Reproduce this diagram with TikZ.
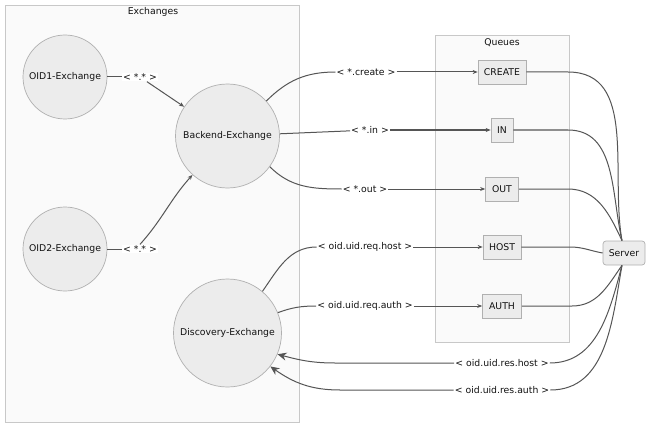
\documentclass[tikz,border=0pt]{standalone}
\usepackage{fontspec}
\setmainfont{DejaVu Sans}
\usetikzlibrary{arrows.meta}
\definecolor{clfill}{HTML}{FAFAFA}
\definecolor{clborder}{HTML}{C8C8C8}
\definecolor{nodefill}{HTML}{ECECEC}
\definecolor{nodeborder}{HTML}{B0B0B0}
\definecolor{edgecol}{HTML}{555555}
\definecolor{txt}{HTML}{111111}
\begin{document}
\begin{tikzpicture}[x=1pt,y=1pt,font=\fontsize{9.3}{11}\selectfont,text=txt,
  cluster/.style={draw=clborder,fill=clfill,line width=0.8pt},
  exch/.style={circle,draw=nodeborder,fill=nodefill,line width=0.7pt,minimum size=84pt,inner sep=0pt},
  queue/.style={draw=nodeborder,fill=nodefill,line width=0.7pt,minimum height=24pt,inner xsep=2pt},
  lbl/.style={fill=white,inner sep=1pt},
  edge/.style={draw=edgecol,line width=1pt},
  arr/.style={-{Stealth[length=5pt,width=4pt]}},
  bigarr/.style={-{Stealth[length=9pt,width=8pt]}}]
\useasboundingbox[fill=white] (0,0) rectangle (658,-433);
% clusters
\path[cluster] (5,-5) rectangle (299,-422);
\node (exlabel) at (153,-12) {Exchanges};
\path[cluster] (435,-35) rectangle (569,-342);
\node (qlabel) at (502,-43) {Queues};
% exchanges
\node[exch] (oid1) at (65,-77) {OID1-Exchange};
\node[exch,minimum size=104pt] (backend) at (227.5,-136) {Backend-Exchange};
\node[exch] (oid2) at (65,-249) {OID2-Exchange};
\node[exch,minimum size=108pt] (disc) at (227.5,-333) {Discovery-Exchange};
% queues
\node[queue,minimum width=48pt] (create) at (502,-72) {CREATE};
\node[queue,minimum width=22pt] (in) at (502,-130) {IN};
\node[queue,minimum width=33pt] (out) at (502,-189) {OUT};
\node[queue,minimum width=38pt] (host) at (502,-247) {HOST};
\node[queue,minimum width=39pt] (auth) at (502,-306) {AUTH};
% server
\node[draw=nodeborder,fill=nodefill,line width=0.7pt,rounded corners=3pt,minimum width=42pt,minimum height=24pt] (server) at (624,-253) {Server};
% labels
\node[lbl] (l1) at (140,-77) {< *.* >};
\node[lbl] (l2) at (140,-249) {< *.* >};
\node[lbl] (lc) at (366,-72) {< *.create >};
\node[lbl] (li) at (370,-130) {< *.in >};
\node[lbl] (lo) at (365,-189) {< *.out >};
\node[lbl] (lh) at (365,-247) {< oid.uid.req.host >};
\node[lbl] (la) at (365,-306) {< oid.uid.req.auth >};
\node[lbl] (lrh) at (502,-363) {< oid.uid.res.host >};
\node[lbl] (lra) at (502,-390) {< oid.uid.res.auth >};
% coordinates
\coordinate (cq1) at (568,-72);
\coordinate (cq2) at (568,-130);
\coordinate (cq3) at (568,-189);
\coordinate (cq4) at (570,-247);
\coordinate (cq5) at (572,-306);
\coordinate (rh2) at (335,-363);
\coordinate (ra2) at (340,-390);
% edges
\draw[edge] (oid1) -- (l1);
\draw[edge,arr] (l1) -- (backend);
\draw[edge] (oid2) -- (l2);
\draw[edge,arr] (l2.north) to[out=48,in=228] (backend);
\draw[edge] (backend.42) to[out=45,in=180] (lc.west);
\draw[edge,arr] (lc) -- (create);
\draw[edge] (backend) -- (li);
\draw[edge,arr] (li) -- (in);
\draw[edge] (backend.-36) to[out=-45,in=180] (lo.west);
\draw[edge,arr] (lo) -- (out);
\draw[edge] (disc.50) to[out=55,in=180] (lh.west);
\draw[edge,arr] (lh) -- (host);
\draw[edge] (disc.22) to[out=20,in=180] (la.west);
\draw[edge,arr] (la) -- (auth);
\draw[edge] (create) -- (cq1) to[out=0,in=100] ([xshift=-2pt]server.north);
\draw[edge] (in) -- (cq2) to[out=0,in=103] ([xshift=-2pt]server.north);
\draw[edge] (out) -- (cq3) to[out=0,in=115] ([xshift=-2pt]server.north);
\draw[edge] (host) -- (cq4) to[out=0,in=170] (server.west);
\draw[edge] (auth) -- (cq5) to[out=0,in=-125] ([xshift=-2pt]server.south);
\draw[edge] ([xshift=-2pt]server.south) to[out=-105,in=0] (lrh.east);
\draw[edge] ([xshift=-2pt]server.south) to[out=-100,in=0] (lra.east);
\draw[edge,bigarr] (lrh) -- (rh2) to[out=180,in=-15] (disc.-23);
\draw[edge,bigarr] (lra) -- (ra2) to[out=180,in=-35] (disc.-38);
\end{tikzpicture}
\end{document}
